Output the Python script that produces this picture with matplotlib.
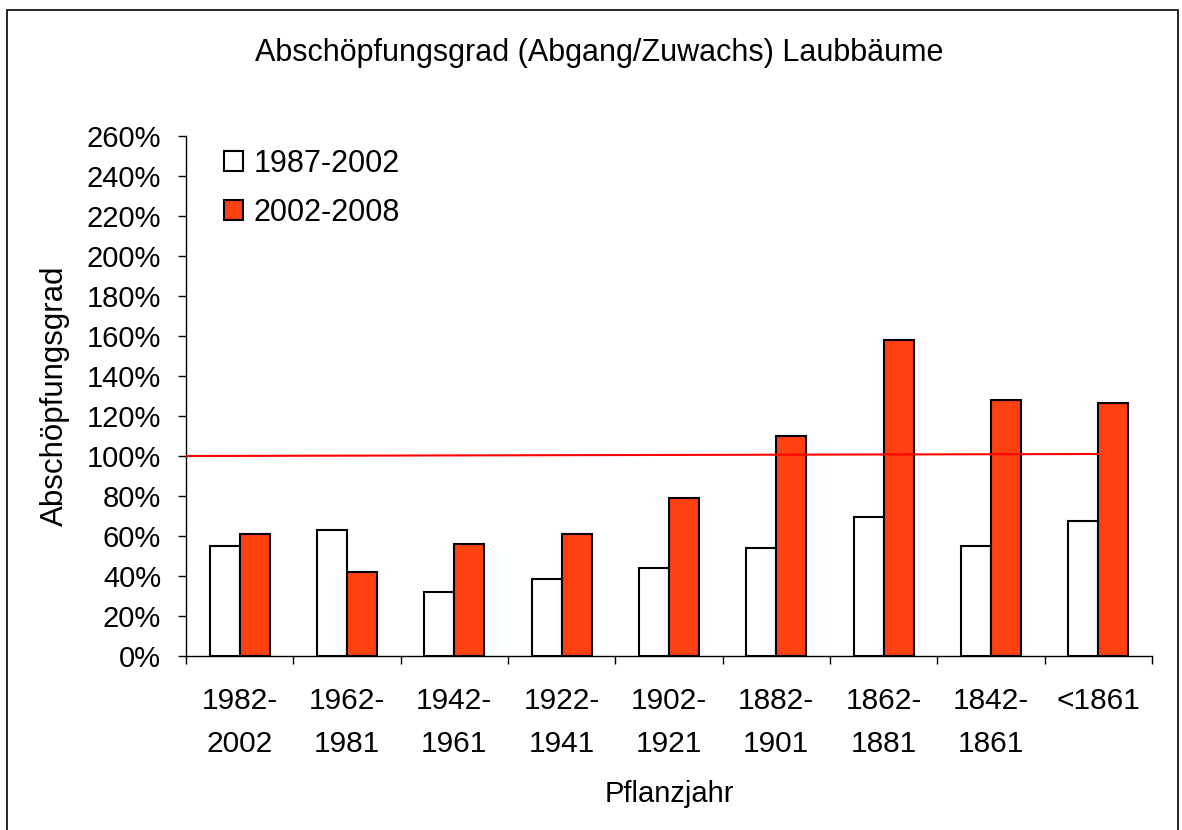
import numpy as np
import matplotlib
matplotlib.use("Agg")
import matplotlib.pyplot as plt
from matplotlib.patches import Rectangle

plt.rcParams['font.family'] = ['Liberation Sans', 'DejaVu Sans']

# Data (percent)
categories = ["1982-\n2002", "1962-\n1981", "1942-\n1961", "1922-\n1941", "1902-\n1921",
              "1882-\n1901", "1862-\n1881", "1842-\n1861", "<1861"]
period_1987_2002 = [55, 63, 32, 38.5, 44, 54, 69.5, 55, 67.5]
period_2002_2008 = [61, 42, 56, 61, 79, 110, 158, 128, 126.5]
series_names = ["1987-2002", "2002-2008"]
ref_line = [100, 101]   # reference line (Abschöpfungsgrad = 100 %)

fig = plt.figure(figsize=(11.82, 8.30), dpi=100)
ax = fig.add_axes([186/1182, 1 - 656/830, 966/1182, 520/830])

x = np.arange(len(categories))
w = 0.28
ax.bar(x - w/2, period_1987_2002, w, color="white", edgecolor="black", linewidth=1.5,
       label=series_names[0], zorder=2)
ax.bar(x + w/2, period_2002_2008, w, color="#FF4010", edgecolor="black", linewidth=1.5,
       label=series_names[1], zorder=2)

# 100 % line
ax.plot([-0.5, len(categories) - 1], ref_line, color="#FF0000", linewidth=1.5, zorder=3)

ax.set_xlim(-0.5, len(categories) - 0.5)
ax.set_ylim(0, 260)
ax.set_yticks(np.arange(0, 261, 20))
ax.set_yticklabels([f"{v}%" for v in range(0, 261, 20)])
ax.set_xticks(x)
ax.set_xticklabels(categories, linespacing=1.68)
ax.set_xticks(np.arange(-0.5, len(categories)), minor=True)
ax.tick_params(axis="x", which="major", length=0, pad=22, labelsize=21.5)
ax.tick_params(axis="x", which="minor", length=6, width=1, direction="out")
ax.tick_params(axis="y", length=6, width=1, direction="out", pad=12, labelsize=21)

for s in ["top", "right"]:
    ax.spines[s].set_visible(False)
for s in ["left", "bottom"]:
    ax.spines[s].set_linewidth(1)

ax.set_xlabel("Pflanzjahr", fontsize=21, labelpad=16)
ax.set_ylabel("Abschöpfungsgrad", fontsize=22.5, labelpad=12)
fig.text(0.507, 0.936, "Abschöpfungsgrad (Abgang/Zuwachs) Laubbäume",
         ha="center", va="center", fontsize=22)

ax.legend(loc="upper left", bbox_to_anchor=(0.039, 0.975), frameon=False, fontsize=22,
          handlelength=0.62, handleheight=0.62, handletextpad=0.35, labelspacing=0.62,
          borderpad=0, borderaxespad=0)

# outer border of the chart area
fig.patches.append(Rectangle((0.006, -0.01), 0.991, 0.998, transform=fig.transFigure,
                             fill=False, edgecolor="black", linewidth=1.2))

fig.savefig("out.png", dpi=100)
